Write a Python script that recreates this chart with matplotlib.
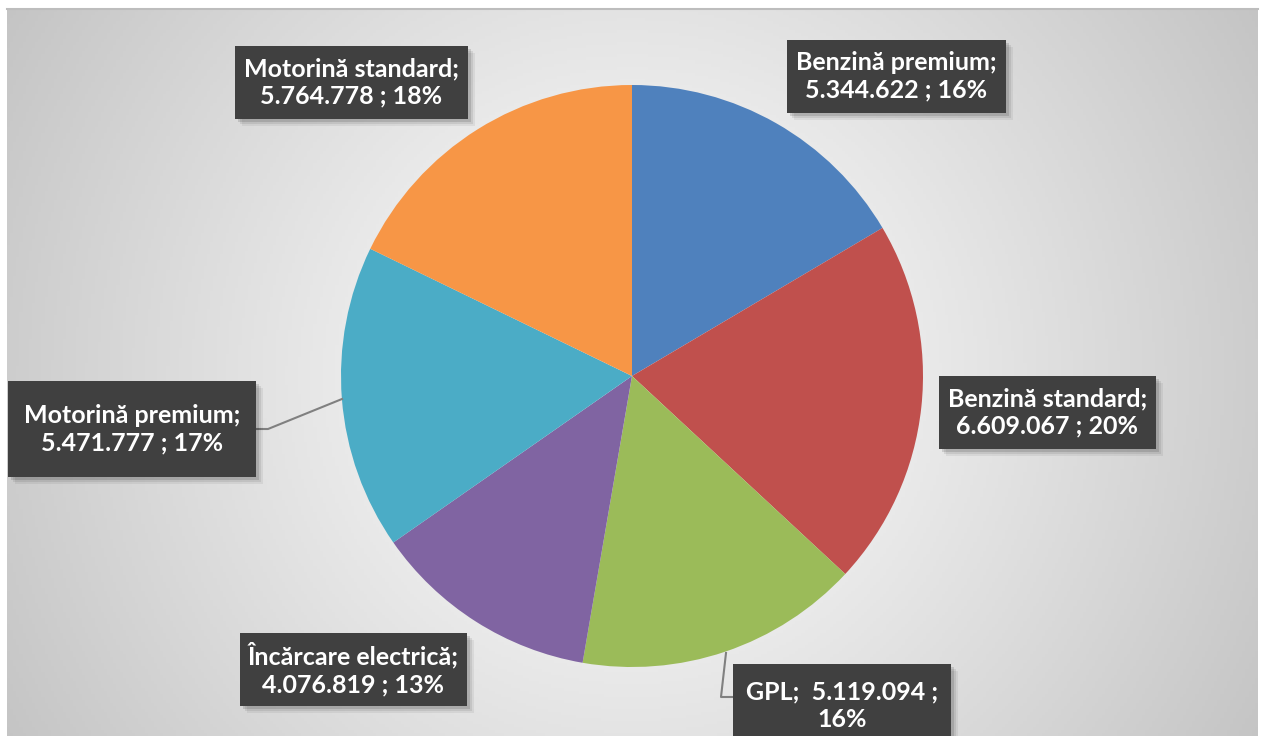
import matplotlib
matplotlib.use("Agg")
import matplotlib.pyplot as plt
from matplotlib.patches import Rectangle
import numpy as np

# Date
categorii = ["Benzină premium", "Benzină standard", "GPL",
             "Încărcare electrică", "Motorină premium", "Motorină standard"]
valori = [5344622, 6609067, 5119094, 4076819, 5471777, 5764778]
procente = [16, 20, 16, 13, 17, 18]
culori = ["#4f81bd", "#c0504d", "#9bbb59", "#8064a2", "#4bacc6", "#f79646"]

W, H = 1264, 736

def Y(py):
    # pixel y (de sus) -> coordonata axei
    return H - py

def fmt(v):
    return f"{v:,}".replace(",", ".")

fig = plt.figure(figsize=(W / 100, H / 100), dpi=100)
ax = fig.add_axes([0, 0, 1, 1])

# fundal cu gradient radial
x0, x1, ytop = 7, 1258, 9
xs = np.linspace(x0, x1, 400)
ys = np.linspace(ytop, H, 240)
gx, gy = np.meshgrid(xs, ys)
d = np.hypot(gx - 632, gy - 376) / 725
g = 1 - 0.23 * np.clip(d, 0, 1.1) ** 1.1
img = np.dstack([g, g, g])
ax.imshow(img, extent=(x0, x1, Y(H), Y(ytop)), origin="upper", zorder=0,
          aspect="auto")
ax.plot([x0, x1], [Y(ytop), Y(ytop)], color="#bdbdbd", lw=1.5, zorder=1)

# placinta
ax.pie(valori, colors=culori, startangle=90, counterclock=False,
       center=(632, Y(376)), radius=291,
       wedgeprops=dict(linewidth=0, zorder=2))

# linii de legatura
ax.plot([256, 268, 342], [Y(429), Y(429), Y(399)], color="#808080", lw=1.5, zorder=3)
ax.plot([733, 721, 726], [Y(697), Y(697), Y(653)], color="#808080", lw=1.5, zorder=3)

# etichete: (stanga, sus, dreapta, jos) in pixeli
casete = [
    (787, 40, 1006, 113),
    (939, 376, 1156, 449),
    (733, 664, 951, 760),
    (240, 633, 467, 706),
    (8, 381, 256, 477),
    (235, 46, 468, 119),
]

for i, (l, t, r, b) in enumerate(casete):
    # umbra
    for k, a in [(7, 0.06), (5, 0.08), (3, 0.12)]:
        ax.add_patch(Rectangle((l + k, Y(b + k)), r - l, b - t,
                               facecolor="black", alpha=a, lw=0, zorder=4))
    ax.add_patch(Rectangle((l, Y(b)), r - l, b - t,
                           facecolor="#404040", lw=0, zorder=5))
    if categorii[i] == "GPL":
        txt = f"{categorii[i]};  {fmt(valori[i])} ;\n{procente[i]}%"
        cy = 706
    else:
        txt = f"{categorii[i]};\n{fmt(valori[i])} ; {procente[i]}%"
        cy = (t + b) / 2
    ax.text((l + r) / 2, Y(cy), txt, color="white", fontsize=18,
            fontweight="bold", family="Lato", ha="center", va="center",
            linespacing=1.25, zorder=6)

ax.set_xlim(0, W)
ax.set_ylim(0, H)
ax.set_aspect("auto")
ax.axis("off")

fig.savefig("out.png", dpi=100, facecolor="white")
